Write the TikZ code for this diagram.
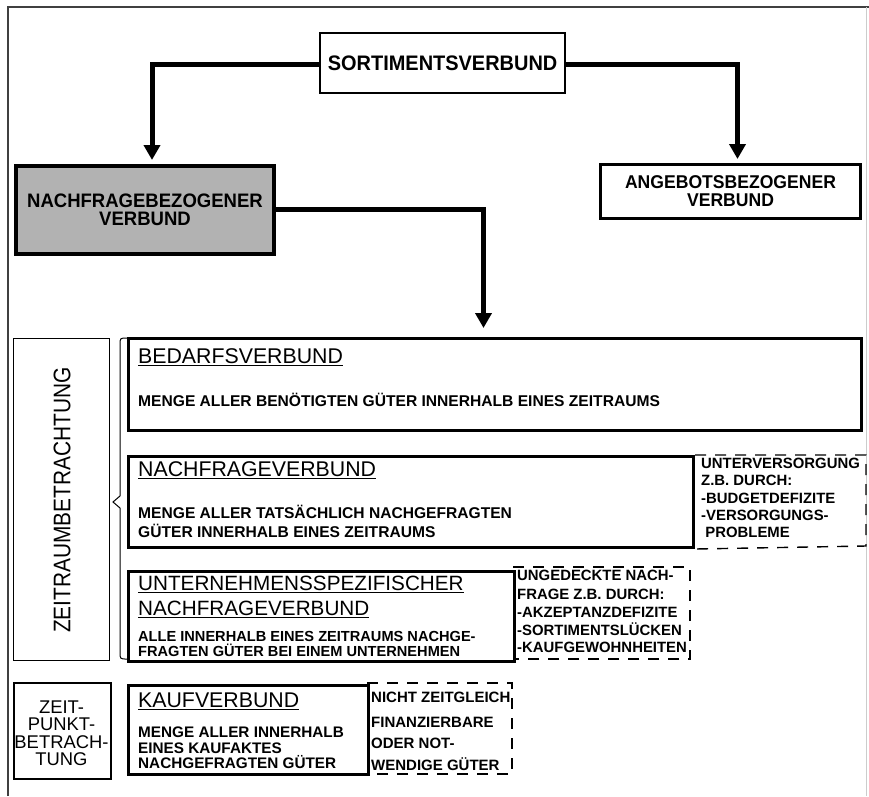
\documentclass[tikz,border=0pt]{standalone}
\usepackage{fontspec}
\setmainfont{Liberation Sans}
\newfontfamily\zrfont[FakeStretch=0.87]{Liberation Sans}
\newfontfamily\topfont[FakeStretch=0.95]{Liberation Sans}
\usetikzlibrary{arrows.meta}
\newcommand\myul[1]{\setbox0\hbox{#1}\rlap{\rule[-3.4pt]{\wd0}{1.4pt}}\box0}
\newcommand\fsz[1]{\fontsize{#1}{#1}\selectfont}
\tikzset{
  conn/.style={line width=5pt, -{Triangle[width=16pt,length=15pt]}},
  thickbox/.style={draw, line width=3pt, inner sep=0pt, anchor=north west},
  thinbox/.style={draw, line width=1.2pt, inner sep=0pt, anchor=north west},
  dashline/.style={line width=1.4pt, dash pattern=on 11pt off 9pt},
  txt/.style={inner sep=0pt, anchor=base west},
  ttl/.style={txt, font=\fsz{21.3}},
  body/.style={txt, font=\bfseries\fsz{15.6}},
  note/.style={txt, font=\bfseries\fsz{14.9}},
}
\begin{document}
\begin{tikzpicture}[x=1pt,y=-1pt]
\useasboundingbox (0,0) rectangle (869,796);
% frame
\draw[line width=1.5pt, black!75] (8,796) -- (8,7) -- (869,7);
\draw[line width=0.8pt, black!20] (866,7) -- (866,796);

% top boxes
\node[thickbox, line width=2.2pt, minimum width=245pt, minimum height=60pt,
  font=\topfont\bfseries\fsz{21}] (sort) at (319,32) {SORTIMENTSVERBUND};
\node[thickbox, line width=4pt, fill=black!30, minimum width=258pt, minimum height=88pt,
  align=center, font=\topfont\bfseries\fontsize{19.5}{18.5}\selectfont] (nbez) at (14,164)
  {NACHFRAGEBEZOGENER\\VERBUND};
\node[thickbox, minimum width=260pt, minimum height=54pt,
  align=center, font=\topfont\bfseries\fontsize{18.5}{18}\selectfont] (abez) at (599,163)
  {ANGEBOTSBEZOGENER\\VERBUND};

% connectors
\draw[conn, shorten >=4pt] ([yshift=-1pt]sort.west) -| ([xshift=7pt]nbez.north);
\draw[conn, shorten >=4pt] ([yshift=-1pt]sort.east) -| ([xshift=7pt]abez.north);

% lower boxes
\node[thickbox, minimum width=733pt, minimum height=92pt] (bed) at (127,337) {};
\node[thickbox, minimum width=565pt, minimum height=91pt] (nv) at (127,455) {};
\node[thickbox, minimum width=386pt, minimum height=90pt] (unt) at (127,570) {};
\node[thickbox, minimum width=240pt, minimum height=89pt] (kauf) at (127,684) {};
\node[thinbox, minimum width=96pt, minimum height=322pt] (zr) at (13,338) {};
\node[thinbox, line width=1.5pt, minimum width=97pt, minimum height=96pt] (zp) at (13,682) {};

\draw[conn, shorten >=9pt] ([yshift=1pt]nbez.east) -| ([xshift=-11.5pt]bed.north);

% brace
\draw[line width=1pt] (127,338) .. controls (120,338) .. (120,345) -- (120,496)
  -- (113,502) -- (120,508) -- (120,652) .. controls (120,659) .. (127,659);

% dashed boxes
\coordinate (d1a) at (866,455);
\coordinate (d1b) at (866,546);
\coordinate (d2s) at (513,567);
\coordinate (d2a) at (690,567);
\coordinate (d2b) at (690,659);
\coordinate (d2e) at (513,659);
\coordinate (d3s) at (367,683);
\coordinate (d3a) at (512,683);
\coordinate (d3b) at (512,774);
\coordinate (d3e) at (367,774);
\draw[dashline] (nv.north east) -- (d1a) -- (d1b) -- (nv.south east);
\draw[dashline] (d2s) -- (d2a) -- (d2b) -- (d2e);
\draw[dashline] (d3s) -- (d3a) -- (d3b) -- (d3e);

% rotated label
\node[inner sep=0pt, rotate=90, font=\zrfont\fsz{24}] (zrt) at (62,500) {ZEITRAUMBETRACHTUNG};

% ZEITPUNKT label
\node[inner sep=0pt, anchor=base, font=\fsz{18.4}] (zp1) at (61.5,713) {ZEIT-};
\node[inner sep=0pt, anchor=base, font=\fsz{18.4}] (zp2) at (61.5,730) {PUNKT-};
\node[inner sep=0pt, anchor=base, font=\fsz{18.4}] (zp3) at (61.5,748) {BETRACH-};
\node[inner sep=0pt, anchor=base, font=\fsz{18.4}] (zp4) at (61.5,765) {TUNG};

% Bedarfsverbund
\node[ttl] (bedT) at (138,363) {\myul{BEDARFSVERBUND}};
\node[body] (bedB) at (138,406) {MENGE ALLER BENÖTIGTEN GÜTER INNERHALB EINES ZEITRAUMS};

% Nachfrageverbund
\node[ttl] (nvT) at (138,476) {\myul{NACHFRAGEVERBUND}};
\node[body] (nvB1) at (138,518) {MENGE ALLER TATSÄCHLICH NACHGEFRAGTEN};
\node[body] (nvB2) at (138,537) {GÜTER INNERHALB EINES ZEITRAUMS};

\node[note] (n11) at (701,468) {UNTERVERSORGUNG};
\node[note] (n12) at (701,485.5) {Z.B.\ DURCH:};
\node[note] (n13) at (701,503) {-BUDGETDEFIZITE};
\node[note] (n14) at (701,520) {-VERSORGUNGS-};
\node[note] (n15) at (701,537) {\ PROBLEME};

% Unternehmensspezifischer
\node[txt, font=\fsz{20.7}] (untT1) at (138,590) {\myul{UNTERNEHMENSSPEZIFISCHER}};
\node[txt, font=\fsz{20.7}] (untT2) at (138,615) {\myul{NACHFRAGEVERBUND}};
\node[txt, font=\bfseries\fsz{14.6}] (untB1) at (138,641) {ALLE INNERHALB EINES ZEITRAUMS NACHGE-};
\node[txt, font=\bfseries\fsz{14.6}] (untB2) at (138,656) {FRAGTEN GÜTER BEI EINEM UNTERNEHMEN};

\node[note] (n21) at (517,580) {UNGEDECKTE NACH-};
\node[note] (n22) at (517,599) {FRAGE Z.B.\ DURCH:};
\node[note] (n23) at (517,617) {-AKZEPTANZDEFIZITE};
\node[note] (n24) at (517,635) {-SORTIMENTSLÜCKEN};
\node[note] (n25) at (517,652) {-KAUFGEWOHNHEITEN};

% Kaufverbund
\node[ttl] (kaufT) at (138,707) {\myul{KAUFVERBUND}};
\node[txt, font=\bfseries\fsz{15.3}] (kaufB1) at (138,737) {MENGE ALLER INNERHALB};
\node[txt, font=\bfseries\fsz{15.3}] (kaufB2) at (138,753) {EINES KAUFAKTES};
\node[txt, font=\bfseries\fsz{15.3}] (kaufB3) at (138,768) {NACHGEFRAGTEN GÜTER};

\node[txt, font=\bfseries\fsz{15}] (n31) at (371,702) {NICHT ZEITGLEICH};
\node[txt, font=\bfseries\fsz{15}] (n32) at (371,727) {FINANZIERBARE};
\node[txt, font=\bfseries\fsz{15}] (n33) at (371,748) {ODER NOT-};
\node[txt, font=\bfseries\fsz{15}] (n34) at (371,770) {WENDIGE GÜTER};
\end{tikzpicture}
\end{document}
